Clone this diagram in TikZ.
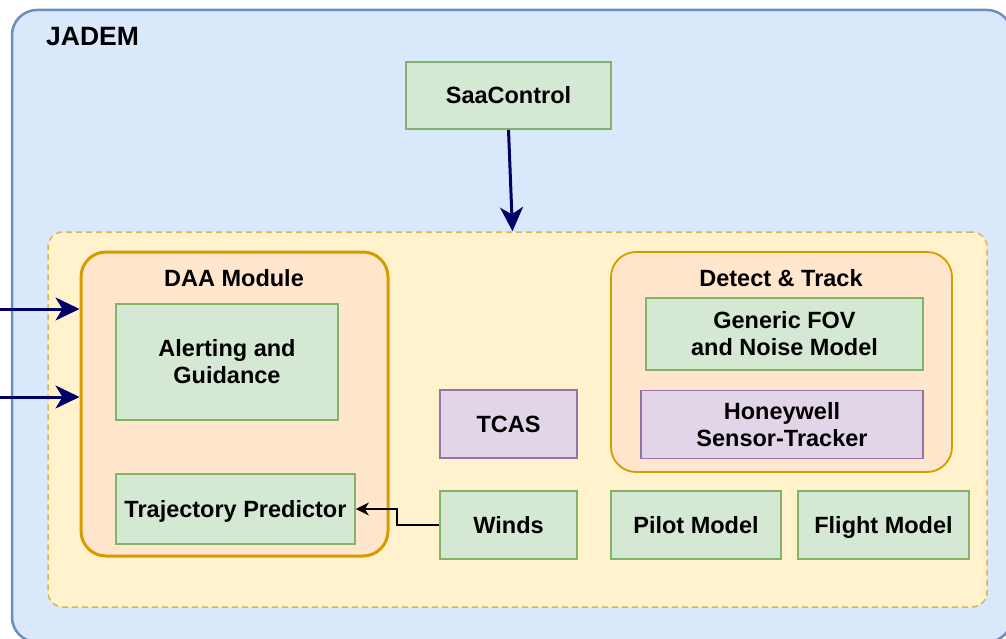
\documentclass[tikz,border=0pt]{standalone}
\usepackage{fontspec}
\setmainfont{Liberation Sans}
\usetikzlibrary{arrows.meta,positioning}

\definecolor{jadfill}{HTML}{DAE8FC}
\definecolor{jadline}{HTML}{6C8EBF}
\definecolor{simfill}{HTML}{FFF2CC}
\definecolor{simline}{HTML}{D6B656}
\definecolor{modfill}{HTML}{FFE6CC}
\definecolor{modline}{HTML}{D79B00}
\definecolor{grnfill}{HTML}{D5E8D4}
\definecolor{grnline}{HTML}{82B366}
\definecolor{purfill}{HTML}{E1D5E7}
\definecolor{purline}{HTML}{9673A6}
\definecolor{navy}{HTML}{000066}

\begin{document}
\begin{tikzpicture}[x=1pt, y=-1pt,
        every node/.style={font=\fontsize{23.5}{27}\selectfont\bfseries, align=center, inner sep=0pt},
        oneline/.style={text height=16.8pt, text depth=0pt},
        greenbox/.style={rectangle, draw=grnline, fill=grnfill, line width=1.8pt},
        purplebox/.style={rectangle, draw=purline, fill=purfill, line width=1.8pt},
        modbox/.style={rectangle, rounded corners=25pt, draw=modline, fill=modfill},
        bigarrow/.style={draw=navy, line width=3pt, -{Stealth[length=24pt, width=23pt, inset=7pt]}}]
        \useasboundingbox (0,0) rectangle (1006,639);

        % outer frame and simulation area
        \node[rectangle, rounded corners=25pt, draw=jadline, fill=jadfill, line width=2.5pt, minimum width=1000pt, minimum height=632pt] (jadem) at (512,326) {};
        \node[anchor=west, font=\fontsize{26.5}{30}\selectfont\bfseries, text height=19pt, text depth=0pt] (jademlabel) at (46,36.5) {JADEM};
        \node[rectangle, rounded corners=15pt, draw=simline, fill=simfill, line width=1.5pt, dash pattern=on 6pt off 4pt, minimum width=939pt, minimum height=375pt] (core) at (517.5,419.5) {};

        \node[greenbox, oneline, minimum width=205pt, minimum height=67pt] (saa) at (508.5,95.5) {SaaControl};

        % DAA module
        \node[modbox, line width=3pt, minimum width=307pt, minimum height=304pt] (daa) at (234.5,404) {};
        \node[oneline] (daatitle) at (234,278) {DAA Module};
        \node[greenbox, minimum width=222pt, minimum height=116pt] (alert) at (227,362) {Alerting and\\Guidance};
        \node[greenbox, oneline, minimum width=239pt, minimum height=70pt] (traj) at (235.5,509) {Trajectory Predictor};

        % detect and track
        \node[modbox, line width=1.8pt, minimum width=341pt, minimum height=220pt] (dat) at (781.5,362) {};
        \node[oneline] (dattitle) at (781,278) {Detect \& Track};
        \node[greenbox, minimum width=277pt, minimum height=72pt] (fov) at (784.5,334) {Generic FOV\\and Noise Model};
        \node[purplebox, minimum width=282pt, minimum height=68pt] (honey) at (782,424.5) {Honeywell\\Sensor-Tracker};

        \node[purplebox, oneline, minimum width=137pt, minimum height=68pt] (tcas) at (508.5,424) {TCAS};
        \node[greenbox, oneline, minimum width=137pt, minimum height=68pt] (winds) at (508.5,525) {Winds};
        \node[greenbox, oneline, minimum width=170pt, minimum height=68pt] (pilot) at (696,525) {Pilot Model};
        \node[greenbox, oneline, minimum width=171pt, minimum height=68pt] (flight) at (883.5,525) {Flight Model};

        % connectors
        \coordinate (inA) at (0,309);
        \coordinate (inB) at (0,397);
        \draw[bigarrow] (inA) -- (inA -| daa.west);
        \draw[bigarrow] (inB) -- (inB -| daa.west);
        \draw[bigarrow] (saa.south) -- ([xshift=-5pt]core.north);
        \draw[line width=1.5pt, -{Stealth[length=13pt, width=13pt, inset=4pt]}] (winds.west) -- ++(-42,0) |- (traj.east);

    \end{tikzpicture}
\end{document}
